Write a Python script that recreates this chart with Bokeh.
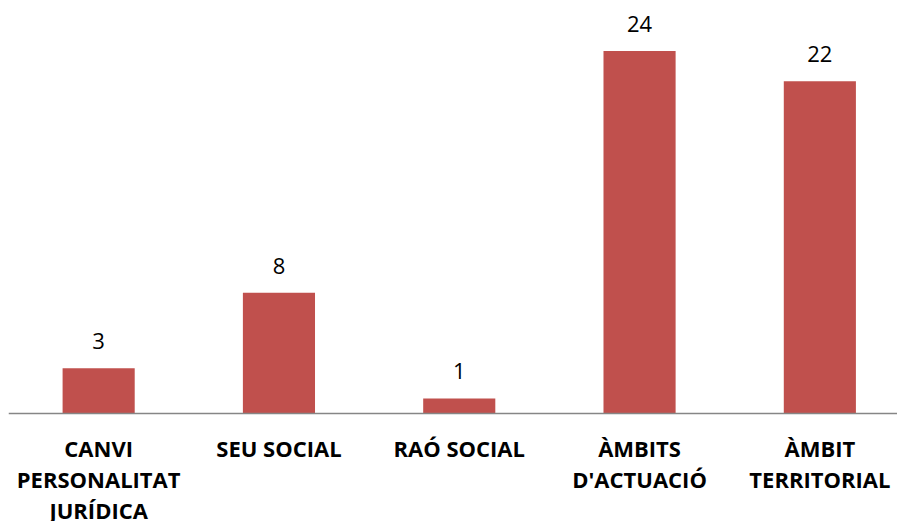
from bokeh.plotting import figure
from bokeh.models import ColumnDataSource, Range1d, Span
from bokeh.core.properties import value
from bokeh.embed import file_html
from bokeh.resources import INLINE

categories = ["CANVI PERSONALITAT JURÍDICA", "SEU SOCIAL", "RAÓ SOCIAL",
              "ÀMBITS D'ACTUACIÓ", "ÀMBIT TERRITORIAL"]
tick_labels = ["CANVI\nPERSONALITAT\nJURÍDICA", "SEU SOCIAL", "RAÓ SOCIAL",
               "ÀMBITS\nD'ACTUACIÓ", "ÀMBIT\nTERRITORIAL"]
values = [3, 8, 1, 24, 22]

xs = list(range(len(categories)))
src = ColumnDataSource(dict(x=xs, top=values, lab=[str(v) for v in values]))

# one row per line of each tick label
lx, ly, ltxt, loff = [], [], [], []
for i, t in enumerate(tick_labels):
    for j, line in enumerate(t.split("\n")):
        lx.append(i)
        ly.append(0)
        ltxt.append(line)
        loff.append(34 + 31 * j)
tsrc = ColumnDataSource(dict(x=lx, y=ly, text=ltxt, off=loff))

PX = 15.1  # pixels per unit
p = figure(width=897, height=521, output_backend="svg", toolbar_location=None,
           x_range=Range1d(-0.5, -0.5 + 889 / 180.3),
           y_range=Range1d(-108 / PX, 413 / PX),
           min_border_left=8, min_border_right=0, min_border_top=0,
           min_border_bottom=0)
p.outline_line_color = None
p.xgrid.visible = False
p.ygrid.visible = False
p.xaxis.visible = False
p.yaxis.visible = False

p.vbar(x="x", top="top", width=0.4, source=src, fill_color="#C0504D",
       line_color=None)

p.add_layout(Span(location=0, dimension="width", line_color="#868686",
                  line_width=1.5))

p.text(x="x", y="top", text="lab", source=src, text_align="center",
       text_baseline="alphabetic", y_offset=-27,
       text_font=value("Open Sans"), text_font_size="22px",
       text_color="#000000")

p.text(x="x", y="y", text="text", source=tsrc, text_align="center",
       text_baseline="alphabetic", y_offset="off",
       text_font=value("Open Sans"), text_font_style="bold",
       text_font_size="22px", text_color="#000000")

open("out.html", "w").write(file_html(p, INLINE))
